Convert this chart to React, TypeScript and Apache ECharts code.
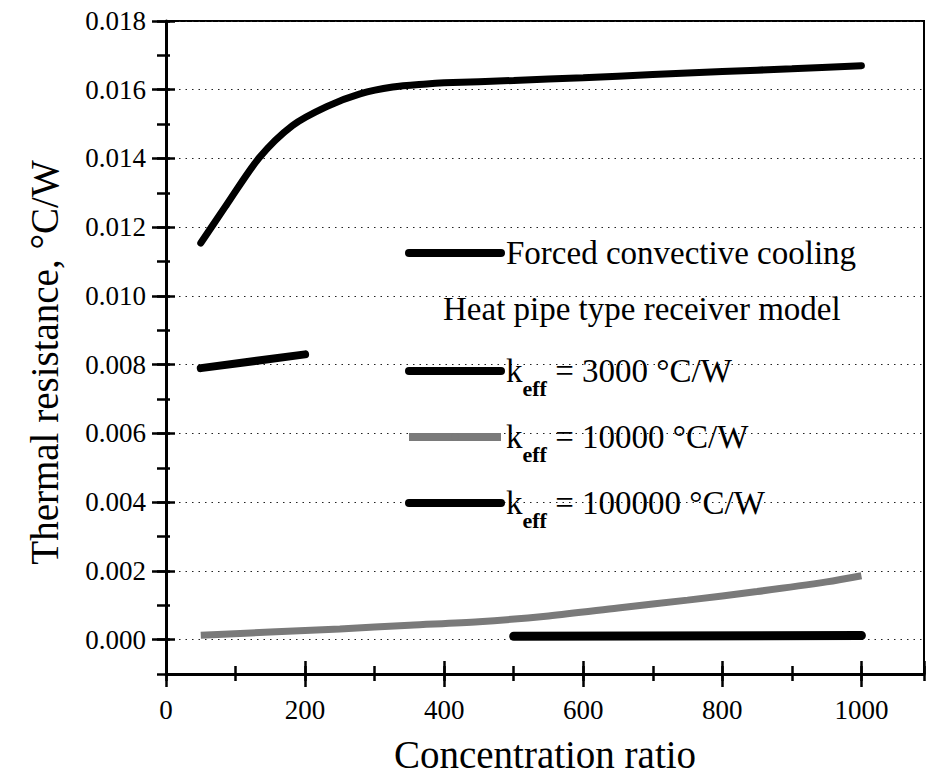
import React, { useEffect, useRef } from "react";
import * as echarts from "echarts";

const FONT = "Liberation Serif";

// Concentration ratio (x) and thermal resistance (°C/W, y)
const forcedX = [50, 86, 134, 182, 231, 279, 326, 375, 400, 500, 600, 700, 800, 900, 1000];
const forcedY = [0.01154, 0.01262, 0.01402, 0.01496, 0.01551, 0.01588, 0.01608, 0.01617, 0.0162, 0.01627, 0.01635, 0.01644, 0.01653, 0.01661, 0.0167];

const k3000X = [50, 200];
const k3000Y = [0.0079, 0.0083];

const k10000X = [50, 150, 250, 350, 450, 550, 650, 750, 850, 950, 1000];
const k10000Y = [0.00013, 0.00022, 0.00031, 0.00042, 0.00052, 0.00069, 0.00092, 0.00115, 0.0014, 0.00168, 0.00186];

const k100000X = [500, 1000];
const k100000Y = [0.0001, 0.00012];

const seriesNames = [
  "Forced convective cooling",
  "keff = 3000 °C/W",
  "keff = 10000 °C/W",
  "keff = 100000 °C/W",
];
const legendHeader = "Heat pipe type receiver model";
const xTitle = "Concentration ratio";
const yTitle = "Thermal resistance, °C/W";

const zip = (xs: number[], ys: number[]) => xs.map((x, i) => [x, ys[i]]);

export default function App() {
  const ref = useRef<HTMLDivElement>(null);
  useEffect(() => {
    if (!ref.current) return;
    const chart = echarts.init(ref.current, null, { renderer: "svg" });
    const X_MIN = 0, X_MAX = 1090, Y_MIN = -0.001, Y_MAX = 0.018;
    const tickRich = { n: { fontFamily: FONT, fontSize: 27, color: "#000" } };
    const baseX = {
      type: "value", position: "bottom", min: X_MIN, max: X_MAX,
      axisLine: { show: false, onZero: false }, axisLabel: { show: false },
      splitLine: { show: false }, axisTick: { show: false },
    };
    const baseY = {
      type: "value", position: "left", min: Y_MIN, max: Y_MAX,
      axisLine: { show: false, onZero: false }, axisLabel: { show: false },
      splitLine: { show: false }, axisTick: { show: false },
    };
    chart.setOption({
      animation: false,
      backgroundColor: "#fff",
      textStyle: { fontFamily: FONT, color: "#000" },
      grid: {
        left: 166, top: 21, right: 3, bottom: 104,
        show: true, borderColor: "#000", borderWidth: 2, backgroundColor: "transparent",
      },
      xAxis: [
        {
          ...baseX, interval: 200,
          axisLine: { show: true, onZero: false, lineStyle: { color: "#000", width: 3 } },
          axisTick: { show: true, inside: false, length: 13, lineStyle: { color: "#000", width: 2.5 } },
          axisLabel: {
            show: true, margin: 22, showMaxLabel: false,
            fontFamily: FONT, fontSize: 27, color: "#000",
            formatter: (v: number) => `{n|${v}}`, rich: tickRich,
          },
          name: xTitle, nameLocation: "middle", nameGap: 61,
          nameTextStyle: { fontFamily: FONT, fontSize: 39, color: "#000" },
        },
        { ...baseX, interval: 200, axisTick: { show: true, inside: true, length: 13, lineStyle: { color: "#000", width: 2.5 } } },
        { ...baseX, interval: 100, axisTick: { show: true, inside: false, length: 7, lineStyle: { color: "#000", width: 2.5 } } },
        { ...baseX, interval: 100, axisTick: { show: true, inside: true, length: 8, lineStyle: { color: "#000", width: 2.5 } } },
      ],
      yAxis: [
        {
          ...baseY, splitNumber: 10,
          axisLine: { show: true, onZero: false, lineStyle: { color: "#000", width: 3 } },
          axisTick: { show: true, inside: false, length: 14, lineStyle: { color: "#000", width: 2.5 } },
          axisLabel: {
            show: true, margin: 20, showMinLabel: false,
            fontFamily: FONT, fontSize: 27, color: "#000",
            formatter: (v: number) => `{n|${v.toFixed(3)}}`, rich: tickRich,
          },
          splitLine: { show: true, lineStyle: { type: [1.5, 5], color: "#222", width: 1.2 } },
          name: yTitle, nameLocation: "middle", nameGap: 102,
          nameTextStyle: { fontFamily: FONT, fontSize: 39, color: "#000", padding: [0, 30, 0, 0] },
        },
        { ...baseY, splitNumber: 10, axisTick: { show: true, inside: true, length: 9, lineStyle: { color: "#000", width: 2.5 } } },
        { ...baseY, interval: 0.001, axisTick: { show: true, inside: false, length: 9, lineStyle: { color: "#000", width: 2.5 } } },
        { ...baseY, interval: 0.001, axisTick: { show: true, inside: true, length: 4, lineStyle: { color: "#000", width: 2.5 } } },
      ],
      legend: [
        {
          data: [seriesNames[0]], left: 405, top: 235, padding: 0, orient: "vertical",
          itemWidth: 92, itemHeight: 10, selectedMode: false,
          lineStyle: { width: 8 },
          textStyle: { fontFamily: FONT, fontSize: 33, color: "#000", lineHeight: 36 },
        },
        {
          data: seriesNames.slice(1), left: 405, top: 343, padding: 0, orient: "vertical",
          itemWidth: 92, itemHeight: 10, itemGap: 10, selectedMode: false,
          lineStyle: { width: 8 },
          formatter: (name: string) => `{k|k}{s|eff}{t|${name.replace("keff", "")}}`,
          textStyle: {
            fontFamily: FONT, fontSize: 33, color: "#000",
            rich: {
              k: { fontFamily: FONT, fontSize: 33, lineHeight: 36, color: "#000" },
              s: { fontFamily: FONT, fontSize: 22, lineHeight: 22, fontWeight: "bold", padding: [34, 0, 0, 0], color: "#000" },
              t: { fontFamily: FONT, fontSize: 33, lineHeight: 36, color: "#000" },
            },
          },
        },
      ],
      graphic: [
        {
          type: "text", left: 443, top: 292,
          style: { text: legendHeader, font: `33px "${FONT}"`, fill: "#000" },
        },
      ],
      series: [
        {
          name: seriesNames[0], type: "line", data: zip(forcedX, forcedY), smooth: 0.3,
          symbol: "none", lineStyle: { color: "#000", width: 7, cap: "round" }, itemStyle: { color: "#000" },
        },
        {
          name: seriesNames[1], type: "line", data: zip(k3000X, k3000Y),
          symbol: "none", lineStyle: { color: "#000", width: 8, cap: "round" }, itemStyle: { color: "#000" },
        },
        {
          name: seriesNames[2], type: "line", data: zip(k10000X, k10000Y), smooth: 0.3,
          symbol: "none", lineStyle: { color: "#7a7a7a", width: 7 }, itemStyle: { color: "#7a7a7a" },
        },
        {
          name: seriesNames[3], type: "line", data: zip(k100000X, k100000Y),
          symbol: "none", lineStyle: { color: "#000", width: 9, cap: "round" }, itemStyle: { color: "#000" },
        },
      ],
    });
    return () => chart.dispose();
  }, []);
  return <div ref={ref} style={{ position: "fixed", left: 0, top: 0, width: 927, height: 779 }} />;
}
